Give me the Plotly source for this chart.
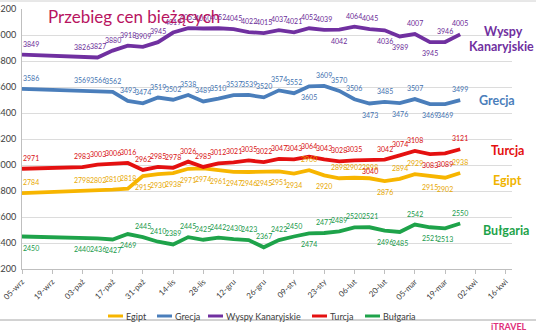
import plotly.graph_objects as go

dates = ["2011-09-05", "2011-10-03", "2011-10-10", "2011-10-17", "2011-10-24", "2011-10-31",
         "2011-11-07", "2011-11-14", "2011-11-21", "2011-11-28", "2011-12-05", "2011-12-12",
         "2011-12-19", "2011-12-26", "2012-01-02", "2012-01-09", "2012-01-16", "2012-01-23",
         "2012-01-30", "2012-02-06", "2012-02-13", "2012-02-20", "2012-02-27", "2012-03-05",
         "2012-03-12", "2012-03-19", "2012-03-26"]

egipt = [2784, 2798, 2802, 2810, 2818, 2915, 2930, 2938, 2971, 2974, 2961, 2947, 2946, 2945,
         2951, 2934, 2960, 2920, 2898, 2902, 2898, 2876, 2894, 2929, 2915, 2902, 2938]
grecja = [3586, 3569, 3566, 3562, 3493, 3474, 3519, 3502, 3538, 3489, 3510, 3537, 3539, 3520,
          3574, 3552, 3605, 3609, 3570, 3506, 3473, 3485, 3476, 3507, 3469, 3469, 3499]
wyspy = [3849, 3826, 3827, 3880, 3918, 3909, 3945, 4019, 4053, 4050, 4052, 4045, 4022, 4015,
         4037, 4021, 4052, 4039, 4042, 4064, 4045, 4036, 3989, 4007, 3945, 3946, 4005]
turcja = [2971, 2983, 3003, 3006, 3016, 2962, 2985, 2978, 3026, 2985, 3012, 3021, 3035, 3022,
          3047, 3043, 3064, 3043, 3028, 3035, 3040, 3042, 3074, 3108, 3083, 3089, 3121]
bulgaria = [2450, 2440, 2436, 2427, 2469, 2445, 2410, 2389, 2445, 2425, 2442, 2430, 2423, 2367,
            2422, 2450, 2474, 2477, 2489, 2520, 2521, 2496, 2485, 2542, 2521, 2513, 2550]

tick_dates = ["2011-09-05", "2011-09-19", "2011-10-03", "2011-10-17", "2011-10-31", "2011-11-14",
              "2011-11-28", "2011-12-12", "2011-12-26", "2012-01-09", "2012-01-23", "2012-02-06",
              "2012-02-20", "2012-03-05", "2012-03-19", "2012-04-02", "2012-04-16"]
tick_labels = ["05-wrz", "19-wrz", "03-paź", "17-paź", "31-paź", "14-lis", "28-lis", "12-gru",
               "26-gru", "09-sty", "23-sty", "06-lut", "20-lut", "05-mar", "19-mar", "02-kwi", "16-kwi"]

names = ["Egipt", "Grecja", "Wyspy Kanaryjskie", "Turcja", "Bułgaria"]
colors = ["#f7b500", "#4a7ebb", "#7030a0", "#e41010", "#1ea34a"]
label_colors = ["#e8a800", "#3f72b0", "#6a2c98", "#d81010", "#18994a"]

# label placement codes (T = above, B = below)
pos_codes = [
    "TTTTTBBBBBBBBBBBTBTTTBTTBBT",
    "TTTTTTTTTTTTTTTTBTTTBTBTBBT",
    "TTTTTTTTTTTTTTTTTTBTTBBTBTT",
    "TTTTTTTTTTTTTTTTTTTTBTTTBBT",
    "BBBBBTTTTTTTTTTTBTTTTBBTBBT",
]
series = [egipt, grecja, wyspy, turcja, bulgaria]

L, R, T, B = 22, 512, 9, 269
W, H = 536, 332
def px(x):
    return (x - L) / (R - L)
def py(y):
    return (B - y) / (B - T)

annotations = []
fig = go.Figure()
for name, vals, col, lcol, codes in zip(names, series, colors, label_colors, pos_codes):
    fig.add_trace(go.Scatter(
        x=dates, y=vals, name=name, mode="lines",
        line=dict(color=col, width=3.8),
        showlegend=False, cliponaxis=False,
    ))
    for i, (d, v, c) in enumerate(zip(dates, vals, codes)):
        annotations.append(dict(
            text=str(v), x=d, y=v, xref="x", yref="y", showarrow=False,
            xanchor="left" if i == 0 else "center", yanchor="middle",
            yshift=11 if c == "T" else -11, xshift=-1 if i == 0 else 0,
            font=dict(size=7, color=lcol, family="Lato"),
        ))

side = [
    dict(text="Przebieg cen bieżących", x=px(46), y=py(16), xanchor="left",
         font=dict(size=17, color="#b8145f", family="Lato")),
    dict(text="<b>Wyspy</b>", x=px(503), y=py(31), font=dict(size=12.5, color="#7030a0", family="Lato")),
    dict(text="<b>Kanaryjskie</b>", x=px(501), y=py(46), font=dict(size=12.5, color="#7030a0", family="Lato")),
    dict(text="<b>Grecja</b>", x=px(497), y=py(100), font=dict(size=12.5, color="#4a7ebb", family="Lato")),
    dict(text="<b>Turcja</b>", x=px(507), y=py(150), font=dict(size=12.5, color="#e41010", family="Lato")),
    dict(text="<b>Egipt</b>", x=px(507), y=py(180), font=dict(size=12.5, color="#f0b400", family="Lato")),
    dict(text="<b>Bułgaria</b>", x=px(506), y=py(230), font=dict(size=12.5, color="#1ea34a", family="Lato")),
    dict(text="<b>iTRAVEL</b>", x=px(489), y=py(326), xanchor="left",
         font=dict(size=9, color="#e0307a", family="Lato")),
]
for a in side:
    a.update(xref="paper", yref="paper", showarrow=False)
    a.setdefault("xanchor", "center")
    a.setdefault("yanchor", "middle")
annotations.extend(side)

shapes = [
    dict(type="line", xref="paper", yref="paper", x0=px(0), x1=px(536), y0=py(320), y1=py(320),
         line=dict(color="#a6a6a6", width=1)),
    dict(type="line", xref="paper", yref="paper", x0=px(0), x1=px(536), y0=py(1), y1=py(1),
         line=dict(color="#d0d0d0", width=1)),
]

# custom legend
leg_line_x = [108, 157, 208, 312, 365]
leg_y = 316
for name, col, lx in zip(names, colors, leg_line_x):
    shapes.append(dict(type="line", xref="paper", yref="paper", x0=px(lx), x1=px(lx + 15),
                       y0=py(leg_y), y1=py(leg_y), line=dict(color=col, width=3)))
    annotations.append(dict(text=name, xref="paper", yref="paper", x=px(lx + 16), y=py(leg_y),
                            xanchor="left", yanchor="middle", showarrow=False,
                            font=dict(size=9, color="#404040", family="Lato")))

fig.update_layout(
    width=W, height=H,
    margin=dict(l=L, r=W - R, t=T, b=H - B, autoexpand=False),
    paper_bgcolor="white", plot_bgcolor="white",
    annotations=annotations, shapes=shapes,
    xaxis=dict(type="date", range=["2011-09-05", "2012-04-19"], automargin=False,
               tickvals=tick_dates, ticktext=tick_labels, tickangle=-45,
               tickfont=dict(size=8, color="#404040", family="Lato"),
               showgrid=False, showline=True, linecolor="#bfbfbf", linewidth=1,
               ticks="outside", ticklen=4, tickcolor="#bfbfbf"),
    yaxis=dict(range=[2200, 4200], dtick=200, tickformat="d", automargin=False,
               tickfont=dict(size=9, color="#404040", family="Lato"),
               showgrid=True, gridcolor="#dcdcdc", gridwidth=1,
               showline=True, linecolor="#bfbfbf", linewidth=1,
               zeroline=False, ticks="outside", ticklen=3,
               tickcolor="rgba(0,0,0,0)"),
)

fig.write_html("out.html")
